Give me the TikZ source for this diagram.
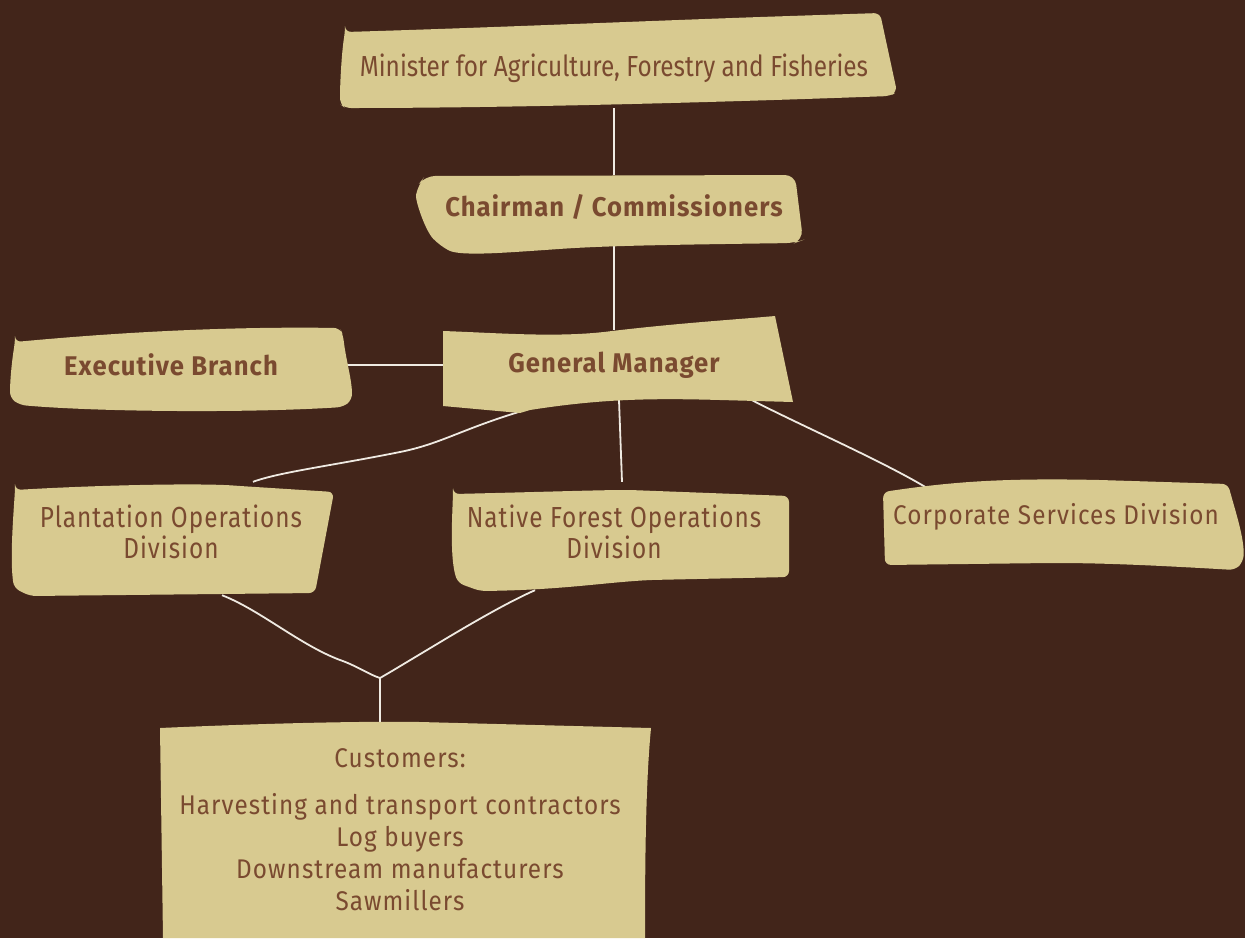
\documentclass[tikz,border=0pt]{standalone}
\usepackage{fontspec}
\setmainfont{Fira Sans}
\newfontfamily\narrowfont{Fira Sans}[FakeStretch=0.84]
\newfontfamily\loosenarrowfont{Fira Sans}[FakeStretch=0.84,LetterSpace=3.5]
\newfontfamily\plainfont{Fira Sans}[FakeStretch=0.9,LetterSpace=4]
\newfontfamily\heavyfont{Fira Sans}[FakeStretch=0.95,LetterSpace=4]
\usetikzlibrary{backgrounds}
\definecolor{bark}{HTML}{42251A}
\definecolor{parchment}{HTML}{D8CA90}
\definecolor{ink}{HTML}{7A4A30}
\definecolor{twig}{HTML}{EFEAE2}
\tikzset{
  blob/.style={fill=parchment, rounded corners=6pt},
  orglabel/.style={text=ink, align=center, inner sep=0pt,
    font=\narrowfont\fontsize{29}{31}\selectfont},
  twolabel/.style={orglabel, font=\loosenarrowfont\fontsize{29}{31}\selectfont},
  widelabel/.style={orglabel, font=\plainfont\fontsize{27}{32}\selectfont},
  boldlabel/.style={orglabel, font=\heavyfont\bfseries\fontsize{27}{31}\selectfont},
  link/.style={draw=twig, line width=1.8pt}
}
\begin{document}
\begin{tikzpicture}[x=1pt,y=-1pt]
\useasboundingbox (0,0) rectangle (1245,938);
% text of the chart
\node[orglabel, minimum width=500pt, minimum height=80pt] (min) at (614,68)
  {Minister for Agriculture, Forestry and Fisheries};
\node[boldlabel, minimum width=340pt, minimum height=64pt] (chair) at (614,207)
  {Chairman / Commissioners};
\node[boldlabel, minimum width=300pt, minimum height=70pt] (gm) at (614,365)
  {General Manager};
\node[boldlabel, minimum width=300pt, minimum height=70pt] (exec) at (171,365)
  {Executive Branch};
\node[twolabel, minimum width=280pt, minimum height=100pt] (plant) at (171,532)
  {Plantation Operations\\Division};
\node[twolabel, minimum width=300pt, minimum height=100pt] (native) at (614,532)
  {Native Forest Operations\\Division};
\node[widelabel, minimum width=340pt, minimum height=60pt] (corp) at (1056,517)
  {Corporate Services Division};
\node[widelabel, minimum width=470pt, minimum height=216pt] (cust) at (400,830)
  {Customers:\\[15pt]Harvesting and transport contractors\\Log buyers\\
   Downstream manufacturers\\Sawmillers};
\coordinate (fork) at (380,678);

\begin{scope}[on background layer]
\fill[bark] (0,0) rectangle (1245,938);
% connectors
\draw[link] (min.south) -- (chair.north);
\draw[link] (chair.south) -- (gm.north);
\draw[link] (exec.east) -- (gm.west);
\draw[link] ([xshift=-96pt,yshift=-12pt]gm.south) .. controls (460,430) and (440,444) .. (400,452)
  .. controls (330,466) and (280,472) .. ([xshift=82pt]plant.north);
\draw[link] ([xshift=5pt]gm.south) -- ([xshift=8pt]native.north);
\draw[link] ([xshift=138pt]gm.south) .. controls (800,425) and (880,460) .. ([xshift=-131pt]corp.north);
\draw[link] ([xshift=51pt,yshift=-13pt]plant.south) .. controls (260,610) and (300,645) .. (340,660)
  .. controls (355,665) and (370,675) .. (fork);
\draw[link] ([xshift=-79pt,yshift=-8pt]native.south) .. controls (490,610) and (420,655) .. (fork);
\draw[link] (fork) -- ([xshift=-20pt]cust.north);
% paper shapes
\fill[blob] (345,32) .. controls (480,28) and (620,22) .. (760,17) -- (880,13) -- (897,92)
  -- (890,96) .. controls (700,103) and (500,108) .. (345,108) -- (340,104)
  .. controls (340,80) and (342,50) .. (345,32) -- cycle;
\fill[blob, rounded corners=10pt] (425,176) -- (795,175) -- (803,240) -- (795,243)
  .. controls (650,245) and (600,246) .. (545,250) .. controls (500,253) and (460,256) .. (440,246)
  .. controls (425,230) and (415,200) .. (418,185) -- cycle;
\fill[parchment] (443,331) .. controls (500,333) and (560,338) .. (612,331)
  .. controls (680,323) and (730,320) .. (775,316) -- (793,402) -- (720,400)
  .. controls (650,398) and (600,399) .. (530,410) -- (520,413) -- (443,406) -- cycle;
\fill[blob] (15,342) .. controls (80,336) and (200,326) .. (340,328) -- (343,335)
  .. controls (346,360) and (352,380) .. (352,400) -- (343,407)
  .. controls (250,413) and (100,412) .. (20,405) -- (10,398)
  .. controls (10,380) and (12,360) .. (15,342) -- cycle;
\fill[blob] (15,490) .. controls (100,485) and (200,483) .. (240,486) -- (334,492) -- (315,593)
  -- (30,596) -- (14,588) .. controls (10,560) and (13,520) .. (15,490) -- cycle;
\fill[blob] (453,494) .. controls (540,492) and (600,490) .. (630,490) -- (789,496) -- (789,577)
  -- (650,580) .. controls (600,583) and (560,590) .. (480,591) -- (458,583)
  .. controls (450,560) and (452,520) .. (453,494) -- cycle;
\fill[blob] (883,492) .. controls (950,482) and (1000,478) .. (1100,480) -- (1228,484)
  .. controls (1235,510) and (1245,540) .. (1243,562) -- (1235,570)
  .. controls (1150,565) and (1100,563) .. (1050,563) -- (885,565) -- cycle;
\fill[parchment] (160,728) .. controls (250,724) and (350,721) .. (420,722) -- (651,728)
  .. controls (646,780) and (645,850) .. (645,938) -- (163,938) -- cycle;
\end{scope}
\end{tikzpicture}
\end{document}
